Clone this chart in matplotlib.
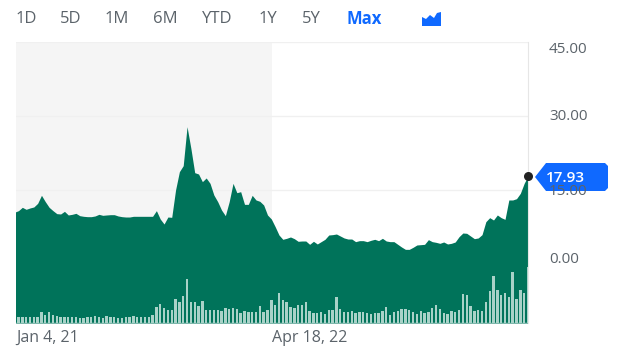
import numpy as np
import matplotlib
matplotlib.use('Agg')
import matplotlib.pyplot as plt
from matplotlib.patches import Polygon

plt.rcParams['font.family'] = ['Open Sans', 'DejaVu Sans']

# weekly closes
price = [10.94, 11.61, 11.21, 11.48, 11.68, 12.41, 14.03, 12.75, 11.61, 10.94,
         10.34, 10.27, 10.80, 10.07, 10.20, 10.40, 9.93, 9.80, 9.73, 9.73,
         9.87, 10.20, 10.00, 10.07, 10.13, 10.13, 9.87, 9.73, 9.66, 9.66,
         9.80, 9.80, 9.80, 9.80, 9.80, 9.80, 10.94, 9.26, 8.25, 9.66,
         9.60, 15.10, 18.79, 20.00, 27.85, 23.49, 18.59, 18.32, 16.78, 17.52,
         16.44, 14.09, 12.75, 11.07, 9.93, 12.75, 16.44, 14.56, 14.76, 12.21,
         12.21, 14.03, 13.09, 12.82, 12.08, 10.07, 9.26, 7.72, 6.04, 5.17,
         5.37, 5.64, 5.30, 4.77, 4.83, 4.83, 4.16, 4.77, 4.23, 4.70,
         5.17, 6.04, 6.11, 6.24, 5.84, 5.44, 5.23, 5.23, 4.70, 4.90,
         4.90, 4.70, 4.97, 5.17, 4.90, 5.37, 4.83, 4.70, 4.70, 4.16,
         3.62, 3.15, 3.15, 3.56, 4.03, 4.09, 4.16, 5.10, 4.70, 4.56,
         4.36, 4.63, 4.23, 4.36, 4.63, 5.70, 6.44, 6.38, 5.84, 5.30,
         5.44, 6.11, 8.72, 9.53, 9.06, 10.07, 9.53, 9.19, 13.09, 13.09,
         13.35, 14.43, 16.44, 17.93]

# volume, relative units
volume = [6.5, 6.5, 6.5, 6, 6, 6, 11.5, 8, 11.5, 8,
          7, 6, 6, 6, 6, 6, 5.5, 5.5, 6, 6,
          7, 6, 5.5, 7, 6, 6, 5.5, 5.5, 6, 6,
          7, 6, 6, 6, 6, 8.5, 16, 19, 15, 13.5,
          13.5, 24, 21.5, 27, 44, 21, 21, 17.5, 22, 13,
          13, 13.5, 13, 12, 15, 14, 15, 14, 10.5, 12,
          11, 11, 11, 17.5, 11.5, 13, 23, 18, 30, 23,
          21, 16, 15, 18, 18.5, 21, 12, 10, 10, 11,
          9.5, 13, 13.5, 26, 14, 11, 11, 12, 10, 11,
          11, 10.5, 9, 10, 10, 12, 16, 8, 11, 12,
          14, 14, 13, 11, 9.5, 12.5, 10.5, 11.5, 15, 18,
          14, 10, 9.5, 12, 11.5, 13, 29, 28, 17, 12.5,
          13.5, 12.5, 21, 32, 47, 33, 28, 30, 26, 51,
          24, 33, 30, 56]

tabs = ['1D', '5D', '1M', '6M', 'YTD', '1Y', '5Y']
y_ticks = [45, 30, 15, 0]
date_labels = ['Jan 4, 21', 'Apr 18, 22']
date_weeks = [0, 67]

GREEN = '#00735a'
BLUE = '#0f69ff'
GREY = '#5b636a'

fig = plt.figure(figsize=(6.22, 3.63), dpi=100)
ax = fig.add_axes([15.5 / 622, 40 / 363, 512.5 / 622, 281 / 363])

weeks = np.arange(len(price))
left = -0.78
ax.set_xlim(left, 133)
ax.set_ylim(-11.68, 44.9)

# shaded band + grid
ax.axvspan(left, 66.2, color='#f5f5f5', lw=0, zorder=0)
for v in y_ticks:
    ax.axhline(v, color='#f0f0f0', lw=1, zorder=1)

ax.fill_between(np.r_[left, weeks], -11.68, np.r_[10.7, price], color=GREEN, lw=0, zorder=2)

ax2 = ax.twinx()
ax2.set_ylim(0, 281)
ax2.bar(weeks, volume, width=0.62, color='#a9d2c8', lw=0, zorder=3)
ax2.axhline(0, color='#cfe3de', lw=1)

for a in (ax, ax2):
    a.set_xticks([])
    a.set_yticks([])
    for s in a.spines.values():
        s.set_visible(False)
ax.spines['right'].set_visible(True)
ax.spines['right'].set_color('#e6e6e6')

ax2.scatter([weeks[-1]], [(price[-1] + 11.68) * 281 / 56.58], s=30, color='#222222', zorder=6, clip_on=False)

# overlay in pixel coordinates for the page furniture
ov = fig.add_axes([0, 0, 1, 1], zorder=5)
ov.set_xlim(0, 622)
ov.set_ylim(363, 0)
ov.axis('off')

for t, x in zip(tabs, [16, 60, 105, 153, 202, 259, 302]):
    ov.text(x, 19, t, color=GREY, fontsize=12, ha='left', va='center')
ov.text(346, 19, 'Max', color=BLUE, fontsize=12, fontweight='bold', ha='left', va='center')

ov.add_patch(Polygon([(422, 26), (422, 17), (426, 19), (430, 15), (434, 18), (437, 13), (441, 12), (441, 26)],
                     closed=True, color=BLUE, lw=0))

for v, y in zip(y_ticks, [49.5, 116.5, 191.5, 259.5]):
    ov.text(549, y, f'{v:.2f}', color=GREY, fontsize=11, ha='left', va='center')

ov.add_patch(Polygon([(535, 177), (546, 163), (605, 163), (608, 166), (608, 188), (605, 191), (546, 191)],
                     closed=True, color=BLUE, lw=0))
ov.text(546, 178, f'{price[-1]:.2f}', color='white', fontsize=11, fontweight='semibold', ha='left', va='center')

for lab, w in zip(date_labels, date_weeks):
    x = 16 if w == 0 else 272
    ov.text(x, 338, lab, color=GREY, fontsize=11.5, ha='left', va='center')

fig.savefig('out.png', dpi=100)
